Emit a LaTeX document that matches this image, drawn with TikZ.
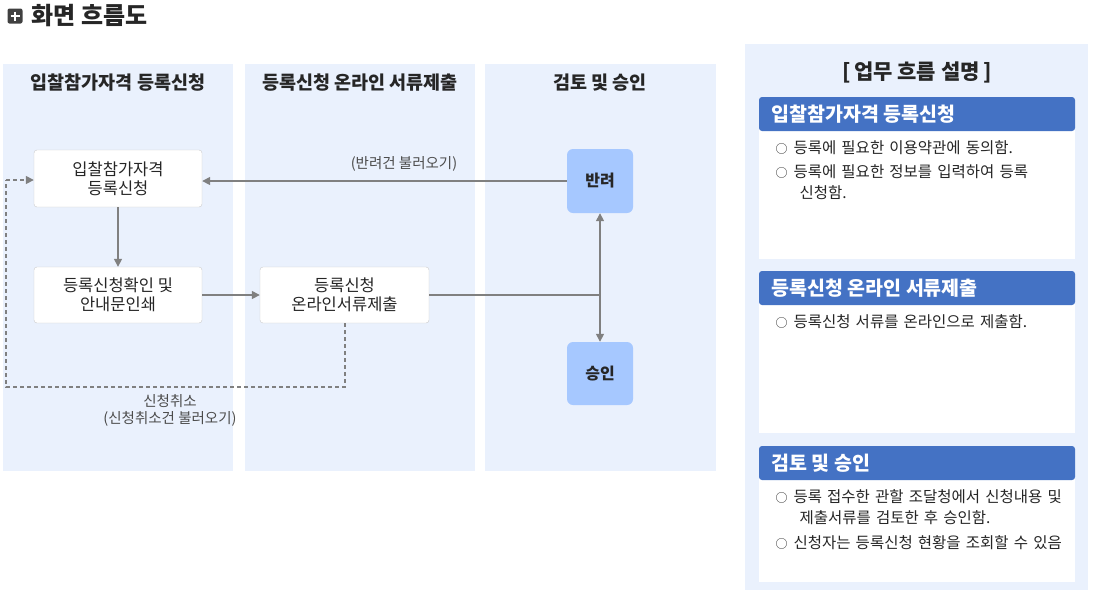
\documentclass[tikz,border=0pt]{standalone}
\usepackage{fontspec}
\setmainfont{Noto Sans CJK KR}
\usetikzlibrary{arrows.meta}
\definecolor{lane}{HTML}{EAF1FD}
\definecolor{blu}{HTML}{A6C8FF}
\definecolor{hdr}{HTML}{4472C4}
\definecolor{ln}{HTML}{808080}
\begin{document}
\begin{tikzpicture}[x=1pt,y=-1pt,
 lanehd/.style={font=\bfseries\fontsize{18.5}{21}\selectfont,text=black!85},
 wbox/.style={draw=black!20,fill=white,rounded corners=3pt,align=center,font=\fontsize{16.5}{19}\selectfont,text=black!85},
 bbox/.style={fill=blu,rounded corners=6pt,font=\bfseries\fontsize{16}{18}\selectfont,text=black!85},
 arr/.style={draw=ln,line width=1.5pt,-{Triangle[length=8pt,width=8pt]}},
 dsh/.style={draw=ln,line width=1.5pt,dash pattern=on 4pt off 3pt},
 lbl/.style={font=\fontsize{14.5}{17}\selectfont,text=black!70,align=center},
 sechd/.style={fill=hdr,rounded corners=3pt},
 sectx/.style={font=\bfseries\fontsize{19.5}{22}\selectfont,text=white,anchor=west},
 item/.style={font=\fontsize{15.5}{21}\selectfont,text=black!85,anchor=north west,align=left,text width=310pt}]
\useasboundingbox (0,0) rectangle (1094,590);
% title
\node[fill=black!75,rounded corners=2pt,minimum size=15pt,inner sep=0pt] (ic) at (15,16) {};
\draw[white,line width=2.5pt] (ic.center)+(-4.5,0) -- +(4.5,0) (ic.center)+(0,-4.5) -- +(0,4.5);
\node[font=\bfseries\fontsize{24}{27}\selectfont,text=black!85,anchor=west] (tt) at (28,16) {화면 흐름도};
% lanes
\fill[lane] (3,64) rectangle (233,471);
\fill[lane] (245,64) rectangle (475,471);
\fill[lane] (485,64) rectangle (716,471);
\node[lanehd] (h1) at (118,83) {입찰참가자격 등록신청};
\node[lanehd] (h2) at (360,83) {등록신청 온라인 서류제출};
\node[lanehd] (h3) at (600,83) {검토 및 승인};
% nodes
\node[wbox,minimum width=168pt,minimum height=57pt] (A) at (118,178.5) {입찰참가자격\\등록신청};
\node[wbox,minimum width=168pt,minimum height=56pt] (B) at (118,295) {등록신청확인 및\\안내문인쇄};
\node[wbox,minimum width=169pt,minimum height=56pt] (C) at (344.5,295) {등록신청\\온라인서류제출};
\node[bbox,minimum width=66pt,minimum height=64pt] (D) at (600,181) {반려};
\node[bbox,minimum width=66pt,minimum height=63pt] (E) at (600,373.5) {승인};
\coordinate (J) at (600,295);
% connectors
\draw[arr] (D.west) -- (A.east |- D.west);
\node[lbl] (l1) at (404,164) {(반려건 불러오기)};
\draw[arr] (A) -- (B);
\draw[arr] (B) -- (C);
\draw[draw=ln,line width=1.5pt] (C.east) -- (J);
\draw[arr] (J) -- (D);
\draw[arr] (J) -- (E);
\coordinate (d1) at (345,387);
\coordinate (d2) at (6,387);
\coordinate (d3) at (6,180);
\draw[dsh] (C.south -| d1) -- (d1) -- (d2) -- (d3);
\draw[arr,dash pattern=on 4pt off 3pt] (d3) -- (A.west |- d3);
\node[lbl] (l2) at (170,410) {신청취소\\(신청취소건 불러오기)};
% right panel
\fill[lane] (745,44) rectangle (1088,590);
\node[font=\bfseries\fontsize{21}{24}\selectfont,text=black!85] (rt) at (917,72) {[\,업무 흐름 설명\,]};
\fill[white] (759,125) rectangle (1075,259);
\fill[white] (759,299) rectangle (1075,433);
\fill[white] (759,474) rectangle (1075,582);
\fill[sechd] (759,97) rectangle (1075,131);
\fill[sechd] (759,271) rectangle (1075,305);
\fill[sechd] (759,446) rectangle (1075,480);
\node[sectx] (s1) at (768,114) {입찰참가자격 등록신청};
\node[sectx] (s2) at (768,288) {등록신청 온라인 서류제출};
\node[sectx] (s3) at (768,463) {검토 및 승인};
\node[item] (i1) at (772,137) {{\fontsize{12}{21}\selectfont ○}\hspace{6pt}등록에 필요한 이용약관에 동의함.};
\node[item] (i2) at (772,161) {{\fontsize{12}{21}\selectfont ○}\hspace{6pt}등록에 필요한 정보를 입력하여 등록\\\hspace{24pt}신청함.};
\node[item] (i3) at (772,311) {{\fontsize{12}{21}\selectfont ○}\hspace{6pt}등록신청 서류를 온라인으로 제출함.};
\node[item] (i4) at (772,486) {{\fontsize{12}{21}\selectfont ○}\hspace{6pt}등록 접수한 관할 조달청에서 신청내용 및\\\hspace{24pt}제출서류를 검토한 후 승인함.};
\node[item] (i5) at (772,532) {{\fontsize{12}{21}\selectfont ○}\hspace{6pt}신청자는 등록신청 현황을 조회할 수 있음};
\end{tikzpicture}
\end{document}
